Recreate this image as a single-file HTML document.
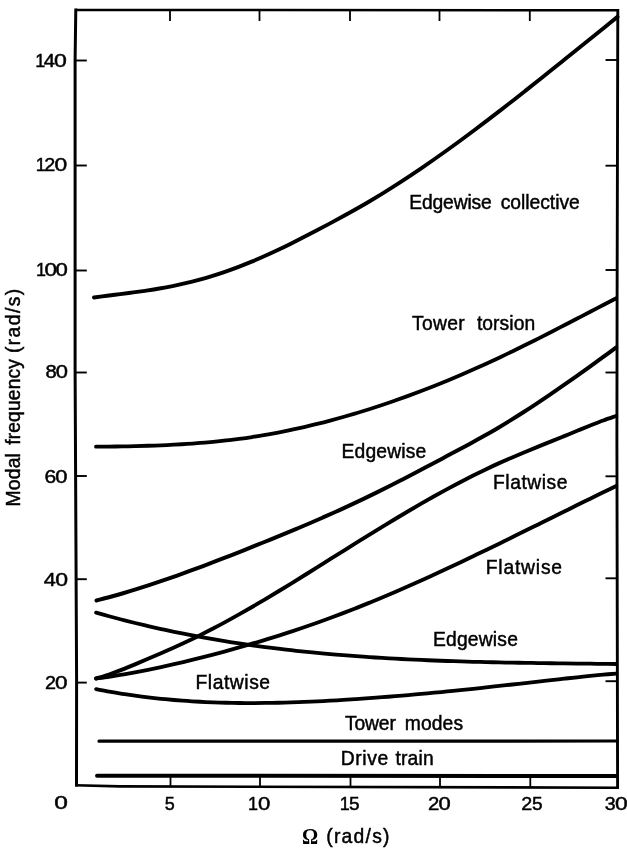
<!DOCTYPE html>
<html lang="en"><head><meta charset="utf-8"><title>Modal frequency vs rotor speed</title>
<style>
html,body{margin:0;padding:0;background:#fff;}
body{width:627px;height:852px;overflow:hidden;}
svg{display:block;}
text{font-family:"Liberation Sans",sans-serif;fill:#000;}
.lb{font-size:19.3px;stroke:#000;stroke-width:0.45px;}
.tk{font-size:18px;stroke:#000;stroke-width:0.45px;}
.yl{font-size:20px;stroke:#000;stroke-width:0.45px;}
.om{font-family:"Liberation Serif",serif;font-size:22.5px;font-weight:bold;}
</style></head><body>
<svg width="627" height="852" viewBox="0 0 627 852">
<rect width="627" height="852" fill="#fff"/>
<g fill="none" stroke="#000" stroke-linecap="butt" stroke-linejoin="miter">
<path d="M75.7,9.9 L617.8,10.2" stroke-width="2.5"/>
<path d="M617.8,8.9 L617.1,300 L616.9,440 L617.6,788.9" stroke-width="2.9"/>
<path d="M75,785.3 L120,786.4 L619,787.7" stroke-width="2.6"/>
<path d="M75.8,8.5 L75.1,60 L75.1,370 L76.6,680 L76.5,786.5" stroke-width="3"/>
<path d="M76,60.5 H86.8" stroke-width="1.9"/>
<path d="M76,165.5 H86.8" stroke-width="1.9"/>
<path d="M76,270.5 H86.8" stroke-width="1.9"/>
<path d="M76,372.5 H86.8" stroke-width="1.9"/>
<path d="M76,476 H86.8" stroke-width="1.9"/>
<path d="M76,579.2 H86.8" stroke-width="1.9"/>
<path d="M76,682.6 H86.8" stroke-width="1.9"/>
<path d="M605.5,60 H618" stroke-width="1.9"/>
<path d="M605.5,165.7 H618" stroke-width="1.9"/>
<path d="M605.5,270 H618" stroke-width="1.9"/>
<path d="M605.5,372.5 H618" stroke-width="1.9"/>
<path d="M605.5,476.3 H618" stroke-width="1.9"/>
<path d="M605.5,578.3 H618" stroke-width="1.9"/>
<path d="M605.5,681.2 H618" stroke-width="1.9"/>
<path d="M170.5,776 V787 M170.0,10 V21" stroke-width="1.8"/>
<path d="M260,776 V787 M259.5,10 V21" stroke-width="1.8"/>
<path d="M350.5,776 V787 M350.0,10 V21" stroke-width="1.8"/>
<path d="M440,776 V787 M439.5,10 V21" stroke-width="1.8"/>
<path d="M530.3,776 V787 M529.8,10 V21" stroke-width="1.8"/>
</g><g fill="none" stroke="#000" stroke-linecap="round" stroke-linejoin="round">
<path d="M94.00,297.49C96.18,297.20 102.73,296.33 107.09,295.77C111.45,295.21 115.81,294.68 120.17,294.13C124.54,293.57 128.90,293.03 133.26,292.44C137.62,291.85 141.99,291.26 146.35,290.61C150.71,289.95 155.07,289.28 159.44,288.52C163.80,287.77 168.16,286.96 172.53,286.08C176.89,285.19 181.25,284.23 185.61,283.19C189.98,282.15 194.34,281.04 198.70,279.85C203.06,278.66 207.43,277.40 211.79,276.06C216.15,274.72 220.51,273.30 224.88,271.80C229.24,270.31 233.60,268.73 237.96,267.08C242.33,265.43 246.69,263.69 251.05,261.89C255.41,260.09 259.78,258.20 264.14,256.26C268.50,254.32 272.86,252.30 277.23,250.25C281.59,248.19 285.95,246.07 290.31,243.92C294.68,241.76 299.04,239.56 303.40,237.33C307.76,235.10 312.12,232.84 316.49,230.55C320.85,228.27 325.21,225.97 329.58,223.64C333.94,221.30 338.30,218.96 342.66,216.56C347.03,214.17 351.39,211.75 355.75,209.27C360.11,206.80 364.48,204.28 368.84,201.71C373.20,199.13 377.56,196.50 381.93,193.82C386.29,191.13 390.65,188.39 395.01,185.61C399.38,182.82 403.74,179.98 408.10,177.10C412.46,174.21 416.82,171.28 421.19,168.31C425.55,165.33 429.91,162.31 434.28,159.26C438.64,156.20 443.00,153.10 447.36,149.97C451.73,146.84 456.09,143.67 460.45,140.46C464.81,137.26 469.18,134.03 473.54,130.76C477.90,127.50 482.26,124.20 486.62,120.88C490.99,117.56 495.35,114.21 499.71,110.85C504.08,107.48 508.44,104.08 512.80,100.67C517.16,97.26 521.53,93.83 525.89,90.39C530.25,86.94 534.61,83.48 538.98,80.01C543.34,76.53 547.70,73.05 552.06,69.55C556.42,66.06 560.79,62.55 565.15,59.04C569.51,55.53 573.88,52.02 578.24,48.50C582.60,44.98 586.96,41.46 591.33,37.95C595.69,34.43 600.05,30.91 604.41,27.40C608.77,23.89 615.32,18.64 617.50,16.88" stroke-width="3.9"/>
<path d="M96.00,446.69C98.17,446.67 104.67,446.62 109.01,446.57C113.34,446.52 117.68,446.46 122.01,446.39C126.35,446.32 130.68,446.23 135.02,446.13C139.35,446.03 143.69,445.91 148.03,445.77C152.36,445.63 156.70,445.48 161.03,445.30C165.37,445.11 169.70,444.91 174.04,444.68C178.37,444.45 182.71,444.20 187.04,443.91C191.38,443.62 195.71,443.31 200.05,442.96C204.39,442.61 208.72,442.23 213.06,441.82C217.39,441.40 221.73,440.95 226.06,440.45C230.40,439.96 234.73,439.43 239.07,438.86C243.40,438.28 247.74,437.67 252.07,437.01C256.41,436.35 260.75,435.65 265.08,434.90C269.42,434.15 273.75,433.36 278.09,432.53C282.42,431.70 286.76,430.83 291.09,429.92C295.43,429.00 299.76,428.05 304.10,427.06C308.44,426.06 312.77,425.03 317.11,423.95C321.44,422.88 325.78,421.77 330.11,420.61C334.45,419.46 338.78,418.27 343.12,417.04C347.45,415.82 351.79,414.55 356.12,413.25C360.46,411.95 364.80,410.61 369.13,409.23C373.47,407.86 377.80,406.45 382.14,405.00C386.47,403.56 390.81,402.07 395.14,400.56C399.48,399.04 403.81,397.49 408.15,395.90C412.49,394.32 416.82,392.70 421.16,391.04C425.49,389.39 429.83,387.70 434.16,385.98C438.50,384.26 442.83,382.50 447.17,380.71C451.50,378.92 455.84,377.10 460.18,375.24C464.51,373.39 468.85,371.50 473.18,369.58C477.52,367.66 481.85,365.71 486.19,363.73C490.52,361.75 494.86,359.73 499.19,357.68C503.53,355.64 507.86,353.56 512.20,351.46C516.54,349.36 520.87,347.23 525.21,345.08C529.54,342.94 533.88,340.76 538.21,338.58C542.55,336.39 546.88,334.18 551.22,331.97C555.55,329.75 559.89,327.52 564.22,325.28C568.56,323.04 572.90,320.79 577.23,318.54C581.57,316.29 585.90,314.03 590.24,311.77C594.57,309.52 598.91,307.25 603.24,305.00C607.58,302.75 614.08,299.38 616.25,298.26" stroke-width="3.8"/>
<path d="M96.50,600.51C98.72,599.92 105.38,598.22 109.83,597.00C114.27,595.79 118.71,594.52 123.15,593.22C127.60,591.92 132.04,590.57 136.48,589.19C140.92,587.80 145.37,586.38 149.81,584.92C154.25,583.47 158.69,581.97 163.13,580.45C167.58,578.93 172.02,577.37 176.46,575.79C180.90,574.22 185.35,572.61 189.79,570.98C194.23,569.35 198.67,567.69 203.12,566.02C207.56,564.34 212.00,562.65 216.44,560.94C220.88,559.23 225.33,557.50 229.77,555.77C234.21,554.03 238.65,552.28 243.10,550.52C247.54,548.76 251.98,547.00 256.42,545.22C260.87,543.44 265.31,541.66 269.75,539.86C274.19,538.06 278.63,536.25 283.08,534.42C287.52,532.59 291.96,530.75 296.40,528.88C300.85,527.02 305.29,525.14 309.73,523.23C314.17,521.33 318.62,519.40 323.06,517.45C327.50,515.50 331.94,513.52 336.38,511.52C340.83,509.51 345.27,507.49 349.71,505.42C354.15,503.36 358.60,501.27 363.04,499.14C367.48,497.02 371.92,494.85 376.37,492.66C380.81,490.47 385.25,488.24 389.69,485.99C394.13,483.74 398.58,481.46 403.02,479.17C407.46,476.87 411.90,474.55 416.35,472.23C420.79,469.90 425.23,467.55 429.67,465.21C434.12,462.86 438.56,460.50 443.00,458.15C447.44,455.79 451.88,453.45 456.33,451.07C460.77,448.70 465.21,446.33 469.65,443.91C474.10,441.49 478.54,439.06 482.98,436.56C487.42,434.06 491.87,431.52 496.31,428.91C500.75,426.30 505.19,423.62 509.63,420.89C514.08,418.15 518.52,415.36 522.96,412.51C527.40,409.67 531.85,406.77 536.29,403.83C540.73,400.90 545.17,397.91 549.62,394.88C554.06,391.86 558.50,388.80 562.94,385.70C567.38,382.61 571.83,379.48 576.27,376.33C580.71,373.19 585.15,370.01 589.60,366.81C594.04,363.62 598.48,360.40 602.92,357.18C607.37,353.96 614.03,349.10 616.25,347.48" stroke-width="4.0"/>
<path d="M96.00,678.52C98.17,677.84 104.67,675.96 109.01,674.49C113.34,673.01 117.68,671.36 122.01,669.66C126.35,667.97 130.68,666.15 135.02,664.34C139.35,662.53 143.69,660.67 148.03,658.81C152.36,656.95 156.70,655.09 161.03,653.19C165.37,651.30 169.70,649.39 174.04,647.43C178.37,645.47 182.71,643.48 187.04,641.44C191.38,639.39 195.71,637.30 200.05,635.15C204.39,633.00 208.72,630.79 213.06,628.53C217.39,626.27 221.73,623.95 226.06,621.60C230.40,619.25 234.73,616.84 239.07,614.40C243.40,611.96 247.74,609.48 252.07,606.96C256.41,604.45 260.75,601.90 265.08,599.32C269.42,596.75 273.75,594.14 278.09,591.51C282.42,588.88 286.76,586.23 291.09,583.56C295.43,580.89 299.76,578.20 304.10,575.51C308.44,572.81 312.77,570.10 317.11,567.38C321.44,564.67 325.78,561.94 330.11,559.22C334.45,556.50 338.78,553.78 343.12,551.06C347.45,548.34 351.79,545.63 356.12,542.93C360.46,540.23 364.80,537.53 369.13,534.85C373.47,532.17 377.80,529.51 382.14,526.86C386.47,524.22 390.81,521.58 395.14,518.98C399.48,516.38 403.81,513.79 408.15,511.24C412.49,508.69 416.82,506.16 421.16,503.66C425.49,501.17 429.83,498.70 434.16,496.28C438.50,493.85 442.83,491.46 447.17,489.11C451.50,486.76 455.84,484.44 460.18,482.18C464.51,479.92 468.85,477.70 473.18,475.53C477.52,473.36 481.85,471.24 486.19,469.17C490.52,467.11 494.86,465.10 499.19,463.14C503.53,461.18 507.86,459.28 512.20,457.42C516.54,455.55 520.87,453.73 525.21,451.93C529.54,450.13 533.88,448.37 538.21,446.61C542.55,444.85 546.88,443.11 551.22,441.36C555.55,439.62 559.89,437.88 564.22,436.12C568.56,434.36 572.90,432.58 577.23,430.81C581.57,429.05 585.90,427.25 590.24,425.53C594.57,423.82 598.91,422.10 603.24,420.51C607.58,418.92 614.08,416.74 616.25,415.98" stroke-width="3.9"/>
<path d="M96.00,678.52C98.17,678.22 104.67,677.37 109.01,676.73C113.34,676.08 117.68,675.39 122.01,674.67C126.35,673.94 130.68,673.17 135.02,672.36C139.35,671.56 143.69,670.71 148.03,669.84C152.36,668.96 156.70,668.05 161.03,667.11C165.37,666.17 169.70,665.19 174.04,664.19C178.37,663.20 182.71,662.17 187.04,661.12C191.38,660.07 195.71,659.00 200.05,657.90C204.39,656.81 208.72,655.69 213.06,654.56C217.39,653.42 221.73,652.27 226.06,651.09C230.40,649.91 234.73,648.71 239.07,647.48C243.40,646.26 247.74,645.01 252.07,643.74C256.41,642.46 260.75,641.17 265.08,639.85C269.42,638.53 273.75,637.18 278.09,635.81C282.42,634.44 286.76,633.04 291.09,631.61C295.43,630.19 299.76,628.74 304.10,627.26C308.44,625.78 312.77,624.27 317.11,622.74C321.44,621.20 325.78,619.64 330.11,618.04C334.45,616.45 338.78,614.82 343.12,613.17C347.45,611.52 351.79,609.83 356.12,608.12C360.46,606.41 364.80,604.66 369.13,602.89C373.47,601.12 377.80,599.33 382.14,597.51C386.47,595.68 390.81,593.84 395.14,591.97C399.48,590.10 403.81,588.20 408.15,586.29C412.49,584.38 416.82,582.44 421.16,580.48C425.49,578.53 429.83,576.55 434.16,574.56C438.50,572.57 442.83,570.56 447.17,568.54C451.50,566.51 455.84,564.47 460.18,562.42C464.51,560.37 468.85,558.30 473.18,556.22C477.52,554.14 481.85,552.05 486.19,549.95C490.52,547.85 494.86,545.74 499.19,543.63C503.53,541.51 507.86,539.38 512.20,537.25C516.54,535.12 520.87,532.98 525.21,530.84C529.54,528.70 533.88,526.56 538.21,524.41C542.55,522.27 546.88,520.12 551.22,517.97C555.55,515.82 559.89,513.67 564.22,511.52C568.56,509.38 572.90,507.23 577.23,505.09C581.57,502.95 585.90,500.81 590.24,498.68C594.57,496.55 598.91,494.43 603.24,492.31C607.58,490.19 614.08,487.03 616.25,485.98" stroke-width="3.9"/>
<path d="M96.10,612.62C98.27,613.23 104.77,615.08 109.10,616.26C113.44,617.44 117.77,618.59 122.11,619.72C126.44,620.84 130.78,621.93 135.11,622.99C139.45,624.06 143.78,625.09 148.12,626.10C152.45,627.10 156.78,628.08 161.12,629.03C165.45,629.98 169.79,630.91 174.12,631.80C178.46,632.70 182.79,633.57 187.13,634.42C191.46,635.26 195.80,636.08 200.13,636.88C204.46,637.67 208.80,638.44 213.13,639.19C217.47,639.93 221.80,640.65 226.14,641.35C230.47,642.05 234.81,642.73 239.14,643.38C243.48,644.03 247.81,644.66 252.15,645.27C256.48,645.88 260.81,646.47 265.15,647.04C269.48,647.61 273.82,648.15 278.15,648.68C282.49,649.21 286.82,649.71 291.16,650.20C295.49,650.69 299.83,651.16 304.16,651.61C308.49,652.06 312.83,652.49 317.16,652.91C321.50,653.32 325.83,653.72 330.17,654.10C334.50,654.48 338.84,654.85 343.17,655.20C347.51,655.55 351.84,655.88 356.17,656.20C360.51,656.52 364.84,656.82 369.18,657.11C373.51,657.40 377.85,657.67 382.18,657.94C386.52,658.20 390.85,658.45 395.19,658.68C399.52,658.92 403.86,659.14 408.19,659.36C412.52,659.57 416.86,659.77 421.19,659.96C425.53,660.15 429.86,660.33 434.20,660.50C438.53,660.67 442.87,660.83 447.20,660.98C451.54,661.13 455.87,661.27 460.21,661.40C464.54,661.54 468.87,661.66 473.21,661.78C477.54,661.89 481.88,662.00 486.21,662.11C490.55,662.21 494.88,662.30 499.22,662.40C503.55,662.49 507.89,662.57 512.22,662.65C516.55,662.73 520.89,662.80 525.22,662.87C529.56,662.94 533.89,663.01 538.23,663.07C542.56,663.14 546.90,663.19 551.23,663.25C555.57,663.31 559.90,663.36 564.24,663.42C568.57,663.47 572.90,663.52 577.24,663.57C581.57,663.62 585.91,663.67 590.24,663.72C594.58,663.77 598.91,663.82 603.25,663.87C607.58,663.92 614.08,663.99 616.25,664.02" stroke-width="3.8"/>
<path d="M96.10,689.16C98.27,689.56 104.77,690.83 109.10,691.60C113.44,692.37 117.77,693.09 122.11,693.77C126.44,694.45 130.78,695.09 135.11,695.69C139.45,696.28 143.78,696.84 148.12,697.35C152.45,697.87 156.78,698.34 161.12,698.78C165.45,699.22 169.79,699.62 174.12,699.99C178.46,700.35 182.79,700.68 187.13,700.97C191.46,701.27 195.80,701.53 200.13,701.75C204.46,701.98 208.80,702.18 213.13,702.34C217.47,702.51 221.80,702.64 226.14,702.75C230.47,702.85 234.81,702.93 239.14,702.98C243.48,703.03 247.81,703.05 252.15,703.05C256.48,703.04 260.81,703.02 265.15,702.97C269.48,702.92 273.82,702.84 278.15,702.74C282.49,702.65 286.82,702.53 291.16,702.39C295.49,702.26 299.83,702.10 304.16,701.93C308.49,701.75 312.83,701.56 317.16,701.35C321.50,701.14 325.83,700.92 330.17,700.68C334.50,700.44 338.84,700.18 343.17,699.92C347.51,699.65 351.84,699.37 356.17,699.08C360.51,698.79 364.84,698.49 369.18,698.18C373.51,697.87 377.85,697.54 382.18,697.21C386.52,696.87 390.85,696.53 395.19,696.17C399.52,695.81 403.86,695.45 408.19,695.07C412.52,694.70 416.86,694.31 421.19,693.92C425.53,693.52 429.86,693.12 434.20,692.71C438.53,692.30 442.87,691.88 447.20,691.45C451.54,691.02 455.87,690.59 460.21,690.14C464.54,689.70 468.87,689.25 473.21,688.79C477.54,688.33 481.88,687.87 486.21,687.40C490.55,686.93 494.88,686.45 499.22,685.97C503.55,685.49 507.89,685.00 512.22,684.51C516.55,684.02 520.89,683.52 525.22,683.03C529.56,682.54 533.89,682.05 538.23,681.56C542.56,681.07 546.90,680.58 551.23,680.10C555.57,679.61 559.90,679.13 564.24,678.66C568.57,678.19 572.90,677.73 577.24,677.28C581.57,676.83 585.91,676.38 590.24,675.95C594.58,675.52 598.91,675.10 603.25,674.70C607.58,674.30 614.08,673.73 616.25,673.54" stroke-width="3.8"/>
<path d="M99,741.2 L617,741" stroke-width="3.2"/>
<path d="M97,775.7 L617,776" stroke-width="3.9"/>
</g>
<text class="lb" y="209"><tspan x="409.2" textLength="82.6" lengthAdjust="spacing">Edgewise</tspan> <tspan x="500.7" textLength="79.1" lengthAdjust="spacing">collective</tspan></text>
<text class="lb" y="330"><tspan x="412.1" textLength="52.6" lengthAdjust="spacing">Tower</tspan> <tspan x="476.9" textLength="58.3" lengthAdjust="spacing">torsion</tspan></text>
<text class="lb" y="458.3"><tspan x="341.5" textLength="84.8" lengthAdjust="spacing">Edgewise</tspan></text>
<text class="lb" y="488.8"><tspan x="493.0" textLength="74.5" lengthAdjust="spacing">Flatwise</tspan></text>
<text class="lb" y="574.2"><tspan x="485.7" textLength="76.4" lengthAdjust="spacing">Flatwise</tspan></text>
<text class="lb" y="646.3"><tspan x="432.9" textLength="85.0" lengthAdjust="spacing">Edgewise</tspan></text>
<text class="lb" y="689.2"><tspan x="195.5" textLength="74.6" lengthAdjust="spacing">Flatwise</tspan></text>
<text class="lb" y="729.7"><tspan x="345.1" textLength="50.7" lengthAdjust="spacing">Tower</tspan> <tspan x="404.7" textLength="58.4" lengthAdjust="spacing">modes</tspan></text>
<text class="lb" y="765.1"><tspan x="340.8" textLength="47.4" lengthAdjust="spacing">Drive</tspan> <tspan x="395.4" textLength="38.3" lengthAdjust="spacing">train</tspan></text>
<text class="tk" y="66.9"><tspan x="35.3">1</tspan><tspan x="43.7" textLength="11.3" lengthAdjust="spacingAndGlyphs">4</tspan><tspan x="53.9" textLength="12.8" lengthAdjust="spacingAndGlyphs">0</tspan></text>
<text class="tk" y="170.7"><tspan x="35.8">1</tspan><tspan x="44.3" textLength="11.0" lengthAdjust="spacingAndGlyphs">2</tspan><tspan x="54.6" textLength="12.7" lengthAdjust="spacingAndGlyphs">0</tspan></text>
<text class="tk" y="275.7"><tspan x="36.0">1</tspan><tspan x="44.5" textLength="12.5" lengthAdjust="spacingAndGlyphs">0</tspan><tspan x="55.6" textLength="12.3" lengthAdjust="spacingAndGlyphs">0</tspan></text>
<text class="tk" y="377.8"><tspan x="45.6" textLength="11.2" lengthAdjust="spacingAndGlyphs">8</tspan><tspan x="55.7" textLength="12.2" lengthAdjust="spacingAndGlyphs">0</tspan></text>
<text class="tk" y="482.6"><tspan x="44.5" textLength="11.7" lengthAdjust="spacingAndGlyphs">6</tspan><tspan x="55.2" textLength="12.2" lengthAdjust="spacingAndGlyphs">0</tspan></text>
<text class="tk" y="585.8"><tspan x="43.7" textLength="12.1" lengthAdjust="spacingAndGlyphs">4</tspan><tspan x="55.2" textLength="12.8" lengthAdjust="spacingAndGlyphs">0</tspan></text>
<text class="tk" y="688.5"><tspan x="45.1" textLength="11.0" lengthAdjust="spacingAndGlyphs">2</tspan><tspan x="55.1" textLength="12.5" lengthAdjust="spacingAndGlyphs">0</tspan></text>
<text class="tk" y="808.7"><tspan x="54.3" textLength="13.6" lengthAdjust="spacingAndGlyphs">0</tspan></text>
<text class="tk" y="809.8"><tspan x="164.7" textLength="10.0" lengthAdjust="spacingAndGlyphs">5</tspan></text>
<text class="tk" y="809.8"><tspan x="247.9">1</tspan><tspan x="258.0" textLength="12.3" lengthAdjust="spacingAndGlyphs">0</tspan></text>
<text class="tk" y="809.8"><tspan x="339.7">1</tspan><tspan x="348.9" textLength="10.6" lengthAdjust="spacingAndGlyphs">5</tspan></text>
<text class="tk" y="809.8"><tspan x="428.1" textLength="11.3" lengthAdjust="spacingAndGlyphs">2</tspan><tspan x="438.6" textLength="12.2" lengthAdjust="spacingAndGlyphs">0</tspan></text>
<text class="tk" y="809.8"><tspan x="521.3" textLength="11.0" lengthAdjust="spacingAndGlyphs">2</tspan><tspan x="532.1" textLength="10.6" lengthAdjust="spacingAndGlyphs">5</tspan></text>
<text class="tk" y="809.8"><tspan x="604.8" textLength="10.9" lengthAdjust="spacingAndGlyphs">3</tspan><tspan x="615.0" textLength="12.7" lengthAdjust="spacingAndGlyphs">0</tspan></text>
<text class="om" x="302" y="843.8" textLength="16.2" lengthAdjust="spacingAndGlyphs">Ω</text>
<text class="lb" y="843"><tspan x="326.2" textLength="63.3" lengthAdjust="spacing">(rad/s)</tspan></text>
<text class="lb" y="0" transform="translate(19.9,506) rotate(-90)"><tspan x="-0.5" textLength="53.4" lengthAdjust="spacing">Modal</tspan> <tspan x="61.2" textLength="85.8" lengthAdjust="spacing">frequency</tspan> <tspan x="152.9" textLength="64.3" lengthAdjust="spacing">(rad/s)</tspan></text>
</svg></body></html>
